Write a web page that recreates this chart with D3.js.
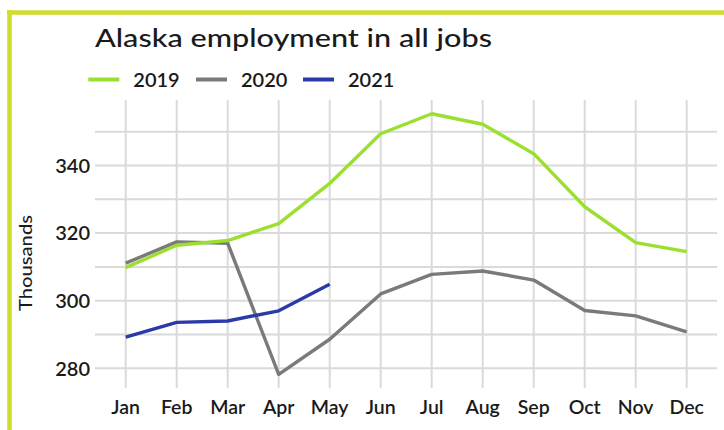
<!DOCTYPE html>
<html><head><meta charset="utf-8">
<script src="https://cdn.jsdelivr.net/npm/d3@7"></script>
<style>
html,body{margin:0;padding:0;background:#fff;}
text{font-family:Lato,"Noto Sans",sans-serif;fill:#1a1a1a;}
</style></head>
<body><svg id="chart" width="724" height="430"></svg>
<script>
const months = ["Jan","Feb","Mar","Apr","May","Jun","Jul","Aug","Sep","Oct","Nov","Dec"];
const v2019 = [309.8,316.4,317.8,322.8,334.7,349.4,355.3,352.2,343.5,327.8,317.2,314.5];
const v2020 = [311.1,317.4,317.0,278.2,288.6,302.0,307.8,308.8,306.1,297.1,295.5,290.8];
const v2021 = [289.2,293.6,294.0,297.0,304.9];
const seriesNames = ["2019","2020","2021"];
const yTicks = [280,290,300,310,320,330,340,350];
const yLabels = [280,300,320,340];

const colors = {"2019":"#9bdf2f","2020":"#7a7a7a","2021":"#2b3aa6"};
const series = [
  {name:"2020", values:v2020},
  {name:"2019", values:v2019},
  {name:"2021", values:v2021}
];

const svg = d3.select("#chart");
// frame
svg.append("line").attr("x1",9.5).attr("x2",9.5).attr("y1",10).attr("y2",430)
  .attr("stroke","#cfdd2c").attr("stroke-width",4.5);
svg.append("line").attr("x1",7).attr("x2",724).attr("y1",12.5).attr("y2",12.5)
  .attr("stroke","#cfdd2c").attr("stroke-width",4.5);

const x = d3.scalePoint().domain(months).range([125.7,686.7]);
const y = d3.scaleLinear().domain([280,350]).range([368.3,131.7]);

const grid = svg.append("g");
grid.selectAll("line.h").data(yTicks).join("line").attr("class","h")
  .attr("x1",95).attr("x2",717).attr("y1",d=>y(d)).attr("y2",d=>y(d))
  .attr("stroke","#dadada").attr("stroke-width",2);
grid.selectAll("line.v").data(months).join("line").attr("class","v")
  .attr("x1",d=>x(d)).attr("x2",d=>x(d)).attr("y1",100).attr("y2",388)
  .attr("stroke","#dadada").attr("stroke-width",2);

// axes labels
svg.append("g").selectAll("text").data(yLabels).join("text")
  .attr("x",90).attr("y",d=>y(d)).attr("dy","0.36em").attr("text-anchor","end")
  .attr("font-size",20).attr("font-weight",600).text(d=>d);
svg.append("g").selectAll("text").data(months).join("text")
  .attr("x",d=>x(d)).attr("y",413.5).attr("text-anchor","middle")
  .attr("font-size",19.5).attr("font-weight",600).text(d=>d);
svg.append("text").attr("transform","translate(32,263) rotate(-90)")
  .attr("text-anchor","middle").attr("font-size",17).attr("font-weight",500)
  .attr("textLength",96).attr("lengthAdjust","spacingAndGlyphs").text("Thousands");

// lines
const line = d3.line().x((d,i)=>x(months[i])).y(d=>y(d));
svg.append("g").selectAll("path").data(series).join("path")
  .attr("d",d=>line(d.values)).attr("fill","none")
  .attr("stroke",d=>colors[d.name]).attr("stroke-width",3.4)
  .attr("stroke-linejoin","round");

// title
svg.append("text").attr("x",95).attr("y",47).attr("font-size",25).attr("font-weight",500)
  .attr("textLength",397).attr("lengthAdjust","spacingAndGlyphs")
  .text("Alaska employment in all jobs");

// legend
const legX = [88.3,196,303];
const lg = svg.append("g").selectAll("g").data(seriesNames).join("g")
  .attr("transform",(d,i)=>`translate(${legX[i]},79.5)`);
lg.append("line").attr("x1",0).attr("x2",31).attr("stroke",d=>colors[d]).attr("stroke-width",4);
lg.append("text").attr("x",45).attr("dy","0.36em").attr("font-size",20).attr("font-weight",600).text(d=>d);
</script></body></html>
